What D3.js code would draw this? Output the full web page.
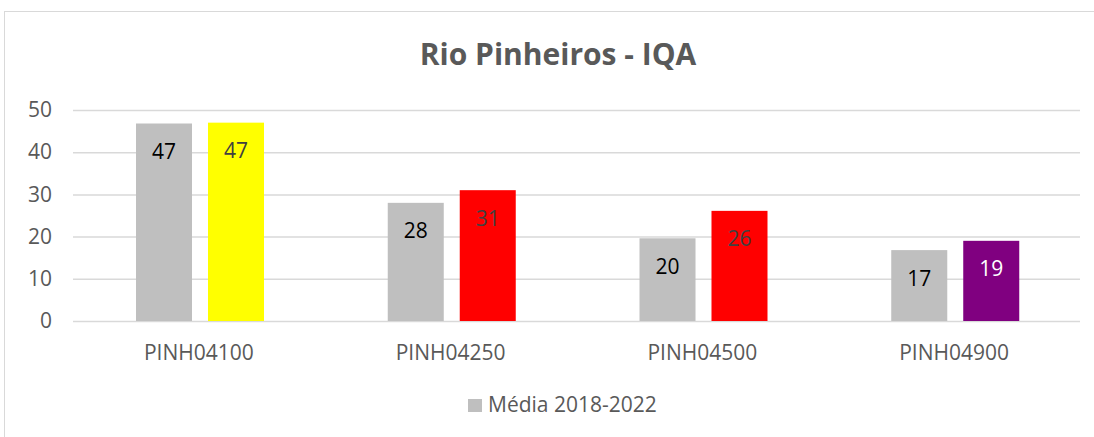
<!DOCTYPE html>
<html><head><meta charset="utf-8">
<script src="https://cdn.jsdelivr.net/npm/d3@7"></script>
<style>body{margin:0;background:#fff}svg{display:block}text{font-family:"Open Sans","Noto Sans",sans-serif}</style>
</head><body>
<svg id="c" width="1094" height="437"></svg>
<script>
const categories = ["PINH04100","PINH04250","PINH04500","PINH04900"];
const media = [46.8, 28.0, 19.6, 16.8];
const mediaLabels = ["47","28","20","17"];
const current = [47.0, 31.0, 26.1, 19.0];
const currentLabels = ["47","31","26","19"];
const currentColors = ["#ffff00","#ff0000","#ff0000","#800080"];
const currentLabelColors = ["#404040","#404040","#404040","#ffffff"];
const yTicks = [0,10,20,30,40,50];
const title = "Rio Pinheiros - IQA";
const legendLabel = "Média 2018-2022";

const svg = d3.select("#c");
svg.append("rect").attr("x",4.5).attr("y",11.5).attr("width",1200).attr("height",500)
  .attr("fill","#fff").attr("stroke","#d9d9d9");

const x = d3.scaleBand().domain(categories).range([73,1080]);
const y = d3.scaleLinear().domain([0,50]).range([321,110]);
const inner = d3.scaleBand().domain(["m","c"]).range([63,191]).paddingInner(0.222).paddingOuter(0);

svg.append("text").attr("x",558).attr("y",65).attr("text-anchor","middle")
  .attr("font-size",30).attr("font-weight","bold").attr("fill","#595959").text(title);

const ya = svg.append("g").attr("transform","translate(73,0)")
  .call(d3.axisLeft(y).tickValues(yTicks).tickSize(-1007).tickPadding(21));
ya.select(".domain").remove();
ya.selectAll("line").attr("stroke","#d9d9d9").attr("stroke-width",1.5);
ya.selectAll("text").attr("font-size",21).attr("fill","#595959").attr("font-family","'Open Sans',sans-serif");

const xa = svg.append("g").attr("transform","translate(0,321)")
  .call(d3.axisBottom(x).tickSize(0).tickPadding(24));
xa.select(".domain").remove();
xa.selectAll("text").attr("font-size",21).attr("fill","#595959").attr("font-family","'Open Sans',sans-serif");

const g = svg.append("g");
categories.forEach((c,i)=>{
  const xm = x(c)+inner("m"), xc = x(c)+inner("c"), w = inner.bandwidth();
  g.append("rect").attr("x",xm).attr("y",y(media[i])).attr("width",w).attr("height",y(0)-y(media[i])).attr("fill","#bfbfbf");
  g.append("rect").attr("x",xc).attr("y",y(current[i])).attr("width",w).attr("height",y(0)-y(current[i])).attr("fill",currentColors[i]);
  g.append("text").attr("x",xm+w/2).attr("y",y(media[i])+28).attr("dy","0.36em").attr("text-anchor","middle")
    .attr("font-size",21).attr("fill","#000").text(mediaLabels[i]);
  g.append("text").attr("x",xc+w/2).attr("y",y(current[i])+28).attr("dy","0.36em").attr("text-anchor","middle")
    .attr("font-size",21).attr("fill",currentLabelColors[i]).text(currentLabels[i]);
});

svg.append("rect").attr("x",468).attr("y",399).attr("width",14).attr("height",13).attr("fill","#bfbfbf");
svg.append("text").attr("x",488).attr("y",412).attr("font-size",21).attr("fill","#595959").text(legendLabel);
</script>
</body></html>
